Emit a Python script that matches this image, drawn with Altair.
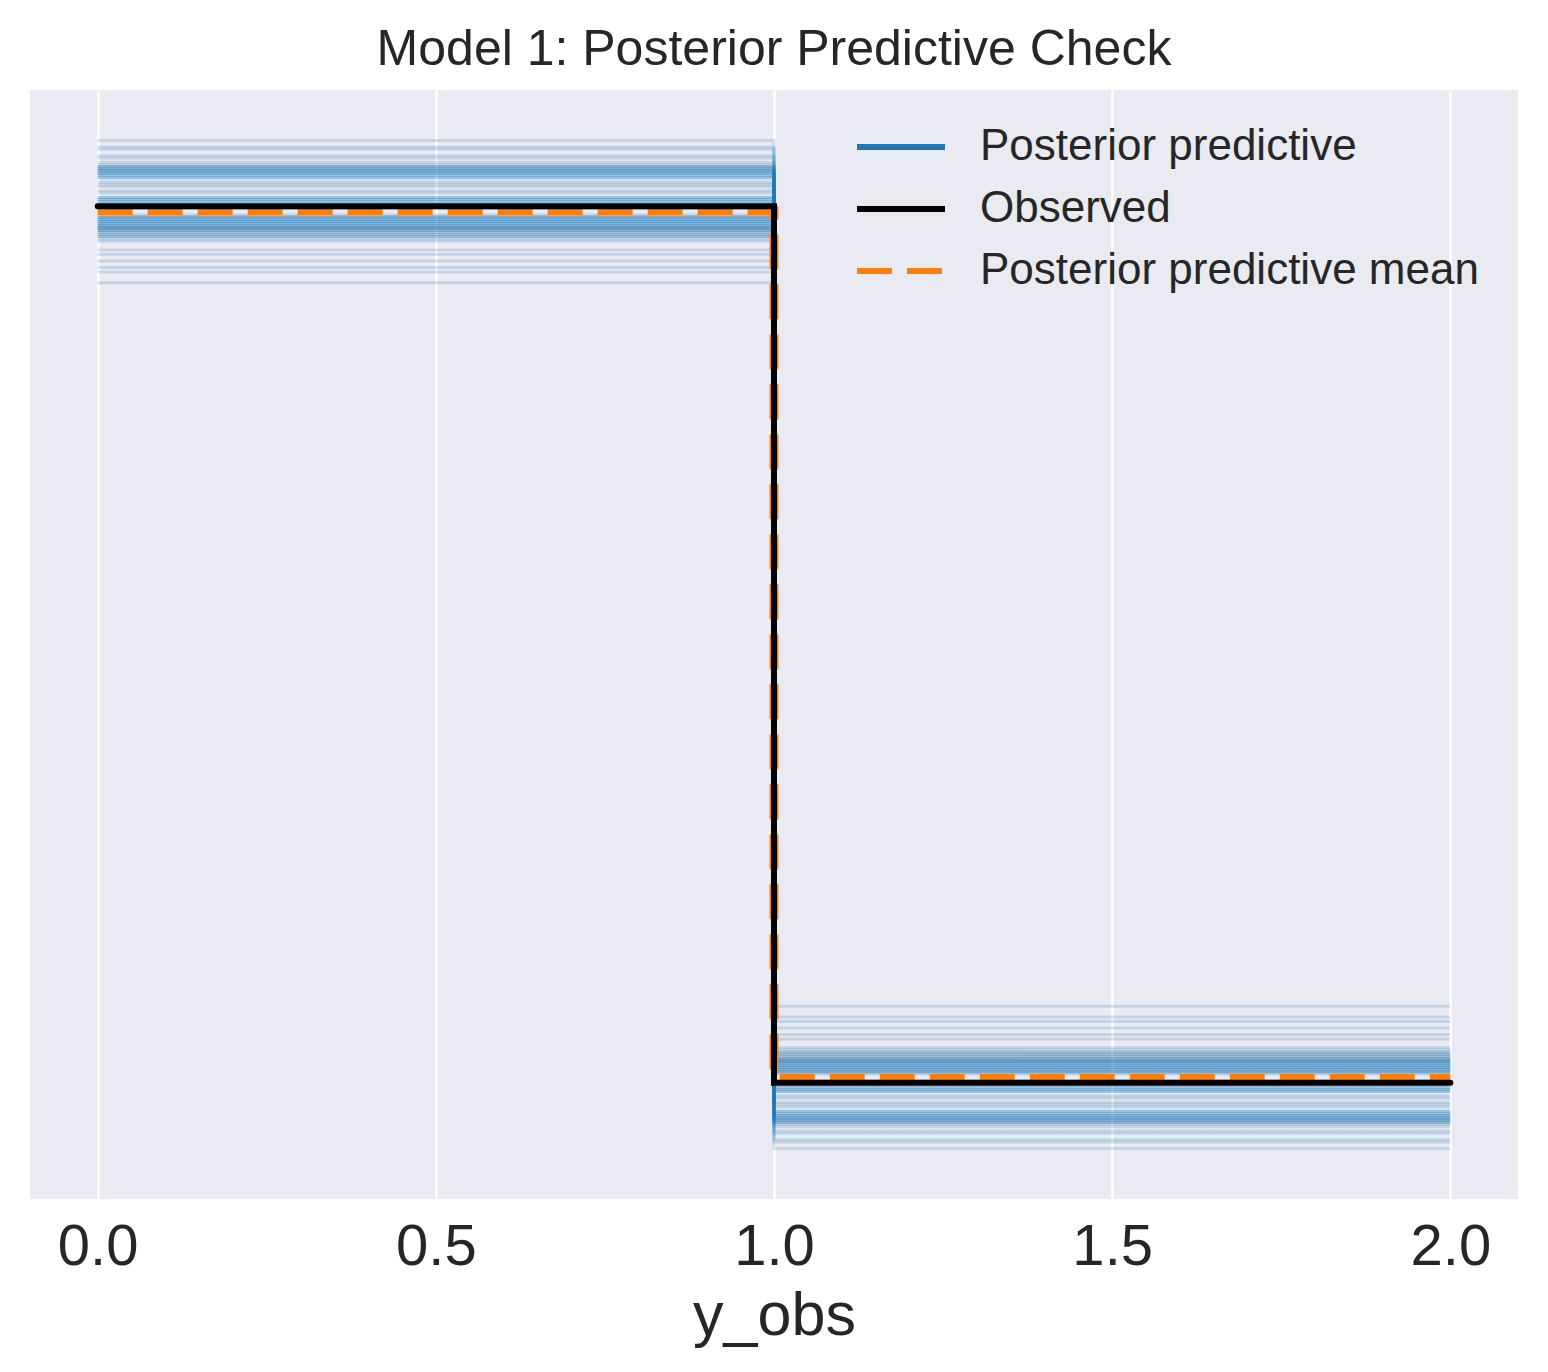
import altair as alt
import pandas as pd

# ---- data ----
bin_edges = [0.0, 1.0, 2.0]
# share of observations in the first bin (value 0) for each posterior predictive draw
pp_p0 = [0.730, 0.727, 0.726, 0.723, 0.722, 0.720,
         0.719, 0.718, 0.718, 0.718, 0.717, 0.717, 0.717, 0.716, 0.716, 0.716,
         0.715, 0.715, 0.715, 0.714, 0.714, 0.713, 0.713,
         0.711, 0.710, 0.709, 0.707, 0.706,
         0.704, 0.704, 0.703, 0.703, 0.702, 0.702, 0.701, 0.699,
         0.696, 0.695, 0.695, 0.695, 0.694, 0.694, 0.694, 0.693, 0.693, 0.693,
         0.692, 0.692, 0.692, 0.691, 0.691, 0.691, 0.690, 0.690, 0.690, 0.690,
         0.689, 0.689, 0.689, 0.688, 0.688, 0.687, 0.687, 0.686, 0.686,
         0.685, 0.684,
         0.680, 0.678, 0.675, 0.672, 0.670, 0.665]
observed = [0.700, 0.300]
pp_mean = [0.698, 0.302]
x_ticks = [0.0, 0.5, 1.0, 1.5, 2.0]
series_names = ["Posterior predictive", "Observed", "Posterior predictive mean"]
series_colors = ["#1f77b4", "#000000", "#ff7f0e"]
series_dash = [[1, 0], [1, 0], [35, 15]]

FONT = "Liberation Sans"
TXT = "#262626"

# ---- tables ----
pp_rows = []
for i, p0 in enumerate(pp_p0):
    vals = [p0, 1 - p0, 1 - p0]
    for x, y in zip(bin_edges, vals):
        pp_rows.append({"sample": i, "x": x, "y": y, "series": series_names[0]})
pp_df = pd.DataFrame(pp_rows)

obs_df = pd.DataFrame({"x": bin_edges, "y": [observed[0], observed[1], observed[1]],
                       "series": series_names[1]})
mean_df = pd.DataFrame({"x": bin_edges, "y": [pp_mean[0], pp_mean[1], pp_mean[1]],
                        "series": series_names[2]})

all_y = list(pp_df["y"]) + list(obs_df["y"]) + list(mean_df["y"])
ylo, yhi = min(all_y), max(all_y)
ypad = 0.05 * (yhi - ylo)
xlo, xhi = min(bin_edges), max(bin_edges)
xpad = 0.05 * (xhi - xlo)

x_enc = alt.X("x:Q", scale=alt.Scale(domain=[xlo - xpad, xhi + xpad], nice=False, zero=False),
              axis=alt.Axis(values=x_ticks, format=".1f", title="y_obs"))
y_enc = alt.Y("y:Q", scale=alt.Scale(domain=[ylo - ypad, yhi + ypad], nice=False, zero=False),
              axis=None)
color_enc = alt.Color("series:N", scale=alt.Scale(domain=series_names, range=series_colors),
                      title=None)
dash_enc = alt.StrokeDash("series:N", scale=alt.Scale(domain=series_names, range=series_dash),
                          title=None)

pp_layer = alt.Chart(pp_df).mark_line(interpolate="step-after", strokeWidth=3, opacity=0.2).encode(
    x=x_enc, y=y_enc, color=color_enc, strokeDash=dash_enc, detail="sample:N")
mean_layer = alt.Chart(mean_df).mark_line(interpolate="step-after", strokeWidth=9).encode(
    x=x_enc, y=y_enc, color=color_enc, strokeDash=dash_enc)
obs_layer = alt.Chart(obs_df).mark_line(interpolate="step-after", strokeWidth=6, strokeCap="round").encode(
    x=x_enc, y=y_enc, color=color_enc, strokeDash=dash_enc)

chart = alt.layer(pp_layer, mean_layer, obs_layer).properties(
    width=1488, height=1109,
    title=alt.TitleParams("Model 1: Posterior Predictive Check", fontSize=50, font=FONT,
                          fontWeight="normal", color=TXT, offset=15),
    padding={"left": 22, "top": 82, "right": 22, "bottom": 160},
    autosize=alt.AutoSizeParams(type="none"),
).configure_view(
    fill="#EAEAF2", stroke=None
).configure_axis(
    domain=False, ticks=False, tickSize=0, grid=True, gridColor="#FFFFFF", gridWidth=2.5,
    labelFont=FONT, labelFontSize=58, labelColor=TXT, labelPadding=19,
    titleFont=FONT, titleFontSize=61, titleFontWeight="normal", titleColor=TXT, titlePadding=10,
).configure_legend(
    orient="none", legendX=824, legendY=26, padding=0,
    symbolType="stroke", symbolSize=7744, symbolStrokeWidth=6, symbolOpacity=1,
    labelFont=FONT, labelFontSize=44, labelColor=TXT, labelOffset=32,
    rowPadding=0, clipHeight=62, labelLimit=800,
)

chart.save("out.html", embed_options={"renderer": "svg", "actions": False})
